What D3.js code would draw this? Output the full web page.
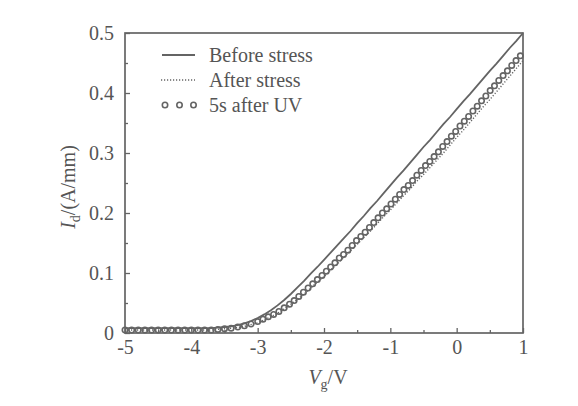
<!DOCTYPE html>
<html><head><meta charset="utf-8">
<script src="https://cdn.jsdelivr.net/npm/d3@7/dist/d3.min.js"></script>
<style>html,body{margin:0;padding:0;background:#fff;}svg{display:block;}</style>
</head><body><svg id="c" width="578" height="406"></svg>
<script>
// Gate voltage grid (V) for the two line series
const vg = [-5.0,-4.9,-4.8,-4.7,-4.6,-4.5,-4.4,-4.3,-4.2,-4.1,-4.0,-3.9,-3.8,-3.7,-3.6,-3.5,-3.4,-3.3,-3.2,-3.1,-3.0,-2.9,-2.8,-2.7,-2.6,-2.5,-2.4,-2.3,-2.2,-2.1,-2.0,-1.9,-1.8,-1.7,-1.6,-1.5,-1.4,-1.3,-1.2,-1.1,-1.0,-0.9,-0.8,-0.7,-0.6,-0.5,-0.4,-0.3,-0.2,-0.1,0.0,0.1,0.2,0.3,0.4,0.5,0.6,0.7,0.8,0.9,1.0];
// Before stress (A/mm)
const beforeStress = [0.008,0.008,0.008,0.008,0.008,0.008,0.008,0.008,0.008,0.008,0.008,0.008,0.008,0.008,0.009,0.010,0.011,0.013,0.016,0.020,0.025,0.031,0.038,0.046,0.055,0.065,0.076,0.087,0.099,0.110,0.122,0.134,0.146,0.158,0.170,0.183,0.195,0.208,0.220,0.233,0.246,0.259,0.271,0.284,0.297,0.310,0.322,0.335,0.348,0.360,0.373,0.386,0.398,0.411,0.424,0.437,0.449,0.462,0.475,0.487,0.500];
// After stress (A/mm)
const afterStress = [0.005,0.005,0.005,0.005,0.005,0.005,0.005,0.005,0.005,0.005,0.005,0.005,0.005,0.005,0.006,0.007,0.008,0.009,0.011,0.014,0.017,0.022,0.027,0.033,0.040,0.048,0.056,0.065,0.075,0.085,0.094,0.105,0.115,0.126,0.137,0.148,0.159,0.170,0.182,0.194,0.205,0.217,0.229,0.240,0.253,0.264,0.276,0.288,0.300,0.313,0.326,0.338,0.351,0.364,0.377,0.389,0.402,0.415,0.428,0.441,0.454];
// 5s after UV: measured points (V, A/mm)
const uvVg = [-5.0,-4.9,-4.8,-4.7,-4.6,-4.5,-4.4,-4.3,-4.2,-4.1,-4.0,-3.9,-3.8,-3.7,-3.6,-3.5,-3.4,-3.3,-3.2,-3.1,-3.0,-2.92,-2.84,-2.76,-2.68,-2.60,-2.52,-2.45,-2.38,-2.31,-2.24,-2.17,-2.10,-2.03,-1.965,-1.90,-1.835,-1.77,-1.705,-1.64,-1.575,-1.51,-1.445,-1.38,-1.315,-1.25,-1.185,-1.12,-1.055,-0.99,-0.925,-0.86,-0.795,-0.73,-0.665,-0.60,-0.535,-0.47,-0.405,-0.34,-0.275,-0.21,-0.145,-0.08,-0.015,0.05,0.115,0.18,0.245,0.31,0.375,0.44,0.505,0.57,0.635,0.70,0.765,0.83,0.895,0.96];
const uvId = [0.005,0.005,0.005,0.005,0.005,0.005,0.005,0.005,0.005,0.005,0.005,0.005,0.005,0.005,0.006,0.007,0.008,0.010,0.012,0.015,0.019,0.023,0.027,0.031,0.036,0.042,0.048,0.054,0.061,0.068,0.075,0.082,0.089,0.096,0.103,0.110,0.117,0.125,0.131,0.138,0.146,0.154,0.161,0.168,0.176,0.184,0.192,0.200,0.207,0.215,0.223,0.231,0.239,0.246,0.254,0.263,0.271,0.279,0.286,0.294,0.302,0.311,0.319,0.328,0.336,0.345,0.353,0.361,0.370,0.378,0.387,0.395,0.404,0.412,0.421,0.429,0.437,0.446,0.454,0.462];
const xTicks = [-5,-4,-3,-2,-1,0,1];
const xMinor = [-4.5,-3.5,-2.5,-1.5,-0.5,0.5];
const yTicks = [0,0.1,0.2,0.3,0.4,0.5];
const yMinor = [0.05,0.15,0.25,0.35,0.45];
const legendLabels = ["Before stress","After stress","5s after UV"];

const col = "#646464", txt = "#555";
const font = "'Liberation Serif','Times New Roman',serif";
const svg = d3.select("#c");
const L = 125, R = 523, T = 33, B = 333;
const x = d3.scaleLinear().domain([-5,1]).range([L,R]);
const y = d3.scaleLinear().domain([0,0.5]).range([B,T]);

// minor ticks
svg.append("g").attr("transform",`translate(0,${B})`)
  .call(d3.axisBottom(x).tickValues(xMinor).tickSize(-3).tickFormat(""))
  .call(g=>{g.select(".domain").remove();g.selectAll("line").attr("stroke",col).attr("stroke-width",1.3);});
svg.append("g").attr("transform",`translate(${L},0)`)
  .call(d3.axisLeft(y).tickValues(yMinor).tickSize(-3).tickFormat(""))
  .call(g=>{g.select(".domain").remove();g.selectAll("line").attr("stroke",col).attr("stroke-width",1.3);});
// major ticks
svg.append("g").attr("transform",`translate(0,${B})`)
  .call(d3.axisBottom(x).tickValues(xTicks).tickSize(-5).tickPadding(7).tickFormat(d=>String(d)))
  .call(g=>{g.select(".domain").remove();g.selectAll("line").attr("stroke",col).attr("stroke-width",1.3);
    g.selectAll("text").attr("fill",txt).style("font-family",font).style("font-size","20px");});
svg.append("g").attr("transform",`translate(${L},0)`)
  .call(d3.axisLeft(y).tickValues(yTicks).tickSize(-5).tickPadding(11).tickFormat(d=>d===0?"0":d3.format(".1f")(d)))
  .call(g=>{g.select(".domain").remove();g.selectAll("line").attr("stroke",col).attr("stroke-width",1.3);
    g.selectAll("text").attr("fill",txt).style("font-family",font).style("font-size","20px");});

// frame
svg.append("rect").attr("x",L).attr("y",T).attr("width",R-L).attr("height",B-T)
  .attr("fill","none").attr("stroke",col).attr("stroke-width",1.7);

const line = d3.line().x(d=>x(d[0])).y(d=>y(d[1]));
svg.append("path").datum(vg.map((v,i)=>[v,afterStress[i]])).attr("d",line)
  .attr("fill","none").attr("stroke",col).attr("stroke-width",1.4).attr("stroke-dasharray","1.2,1.8");
svg.append("path").datum(vg.map((v,i)=>[v,beforeStress[i]])).attr("d",line)
  .attr("fill","none").attr("stroke",col).attr("stroke-width",1.8);
svg.append("g").selectAll("circle").data(uvVg.map((v,i)=>[v,uvId[i]])).join("circle")
  .attr("cx",d=>x(d[0])).attr("cy",d=>y(d[1])).attr("r",2.7)
  .attr("fill","none").attr("stroke",col).attr("stroke-width",1.6);

// legend
const lg = svg.append("g");
const rows = [55,80,105];
lg.append("line").attr("x1",162).attr("x2",195).attr("y1",rows[0]).attr("y2",rows[0]).attr("stroke",col).attr("stroke-width",1.8);
lg.append("line").attr("x1",161).attr("x2",195).attr("y1",rows[1]).attr("y2",rows[1]).attr("stroke",col).attr("stroke-width",1.4).attr("stroke-dasharray","1.2,1.8");
[165,179.5,193.5].forEach(cx=>lg.append("circle").attr("cx",cx).attr("cy",rows[2]).attr("r",2.7).attr("fill","none").attr("stroke",col).attr("stroke-width",1.6));
legendLabels.forEach((t,i)=>lg.append("text").attr("x",209).attr("y",rows[i]).attr("dy","0.33em")
  .attr("fill",txt).style("font-family",font).style("font-size","20px").text(t));

// axis titles
const xt = svg.append("text").attr("x",328).attr("y",384).attr("text-anchor","middle")
  .attr("fill",txt).style("font-family",font).style("font-size","20px");
xt.append("tspan").style("font-style","italic").text("V");
xt.append("tspan").attr("dy",5).style("font-size","14px").text("g");
xt.append("tspan").attr("dy",-5).text("/V");
const yt = svg.append("text").attr("transform","translate(75,187) rotate(-90)").attr("text-anchor","middle")
  .attr("fill",txt).style("font-family",font).style("font-size","20px");
yt.append("tspan").style("font-style","italic").text("I");
yt.append("tspan").attr("dy",5).style("font-size","14px").text("d");
yt.append("tspan").attr("dy",-5).text("/(A/mm)");
</script></body></html>
